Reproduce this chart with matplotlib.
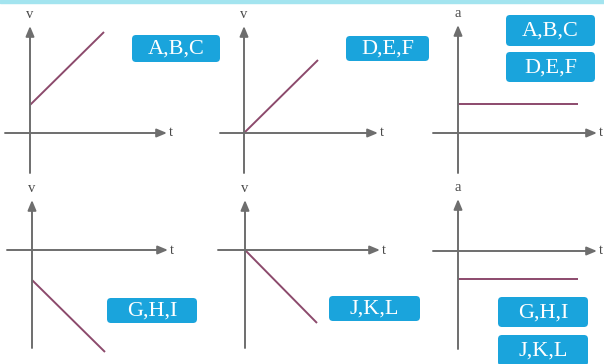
import matplotlib.pyplot as plt
from matplotlib.patches import FancyBboxPatch

W, H = 604, 364
GRIS = '#6e6e6e'
LINEA = '#8c4a6c'
AZUL = '#1aa4dc'

# datos de cada grafico (1 unidad = 10 px)
t1 = [0, 7.4]
v1 = [2.8, 10.1]
t2 = [0, 7.4]
v2 = [0, 7.3]
t3 = [0, 12]
a3 = [2.9, 2.9]
t4 = [0, 7.3]
v4 = [-3.0, -10.2]
t5 = [0, 7.2]
v5 = [0, -7.3]
t6 = [0, 12]
a6 = [-2.8, -2.8]

ejes_y = ['v', 'v', 'a', 'v', 'v', 'a']
etiquetas = [['A,B,C'], ['D,E,F'], ['A,B,C', 'D,E,F'],
             ['G,H,I'], ['J,K,L'], ['G,H,I', 'J,K,L']]

# origen en px, rango de los ejes (xmin, xmax, ymin, ymax)
paneles = [
    ((30, 133), (-2.5, 13.7, -4.0, 10.7), t1, v1),
    ((244, 133), (-2.4, 13.4, -4.0, 10.7), t2, v2),
    ((458, 133), (-2.5, 13.9, -4.0, 10.8), t3, a3),
    ((32, 250), (-2.5, 13.6, -9.8, 5.0), t4, v4),
    ((245, 250), (-2.7, 13.5, -9.8, 5.0), t5, v5),
    ((458, 251), (-2.5, 13.9, -9.8, 5.2), t6, a6),
]

# cajas: izquierda, arriba, derecha, abajo (px)
cajas = [
    [(132, 35, 220, 62)],
    [(346, 36, 429, 61)],
    [(506, 15, 595, 46), (506, 52, 595, 82)],
    [(107, 298, 197, 323)],
    [(329, 296, 420, 321)],
    [(498, 297, 588, 327), (498, 335, 588, 366)],
]

fig = plt.figure(figsize=(W / 100, H / 100), dpi=100)
fondo = fig.add_axes([0, 0, 1, 1])
fondo.set_xlim(0, W)
fondo.set_ylim(H, 0)
fondo.axis('off')
fondo.axhspan(0, 2.5, color='#a3e4ef')

for i, ((ox, oy), (x0, x1, y0, y1), t, y) in enumerate(paneles):
    ax = fig.add_axes([0, 0, 1, 1])
    ax.set_xlim(-ox / 10, (W - ox) / 10)
    ax.set_ylim((oy - H) / 10, oy / 10)
    ax.axis('off')
    ax.patch.set_alpha(0)
    flecha = dict(arrowstyle='-|>,head_length=0.6,head_width=0.25',
                  color=GRIS, lw=1.4, shrinkA=0, shrinkB=0)
    ax.annotate('', xy=(x1, 0), xytext=(x0, 0), arrowprops=flecha)
    ax.annotate('', xy=(0, y1), xytext=(0, y0), arrowprops=flecha)
    ax.text(0, y1 + 0.8, ejes_y[i], ha='center', va='baseline',
            fontsize=10.5, color='#4a4a4a', family='Liberation Serif')
    ax.text(x1 + 0.2, 0, 't', ha='left', va='center',
            fontsize=10.5, color='#4a4a4a', family='Liberation Serif')
    ax.plot(t, y, color=LINEA, lw=1.4, solid_capstyle='butt')

    for (l, a, r, b), txt in zip(cajas[i], etiquetas[i]):
        fondo.add_patch(FancyBboxPatch((l, a), r - l, b - a,
                                       boxstyle='round,pad=0,rounding_size=4',
                                       fc=AZUL, ec='none'))
        fondo.text((l + r) / 2, (a + b) / 2 + 1, txt, ha='center', va='center',
                   color='white', fontsize=16, family='Liberation Serif')

fig.savefig('out.png', dpi=100)
